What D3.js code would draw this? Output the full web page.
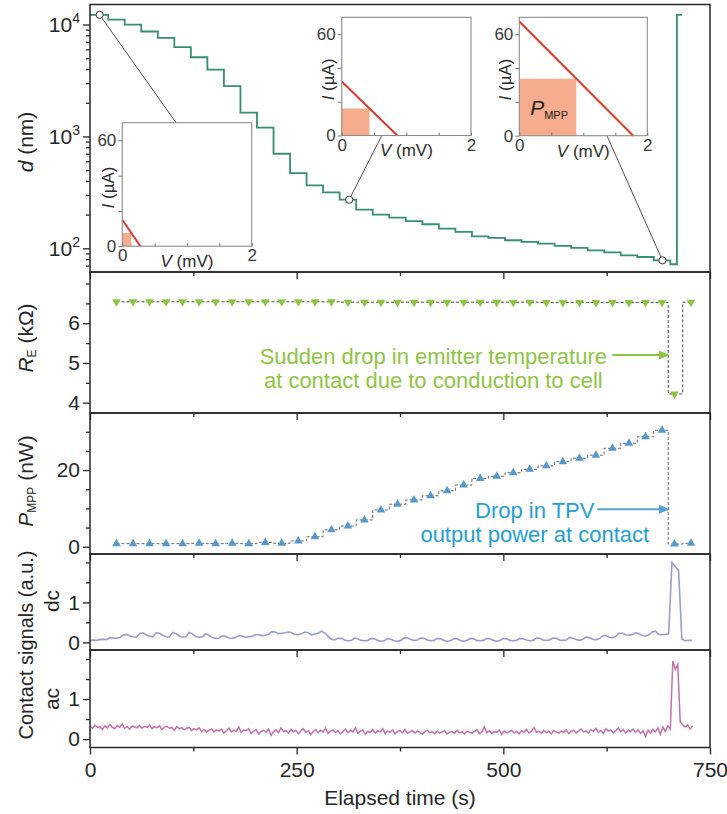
<!DOCTYPE html>
<html><head><meta charset="utf-8">
<script src="https://cdn.jsdelivr.net/npm/d3@7"></script>
<style>
body{margin:0;background:#fff}
svg text{font-family:Arial,"Liberation Sans",Helvetica,sans-serif}
</style>
</head><body>
<svg id="c" width="727" height="814"></svg>
<script>
// ---------------- data ----------------
const xTicksMajor = [0, 250, 500, 750];
const xTicksMinor = [125, 375, 625];

// gap d (nm): plateau start times (s) and values
const dTimes = [0,22,42,62,82,102,122,142,162,182,202,222,242,262,282,302,322,342,362,382,402,422,442,462,482,502,522,542,562,582,602,622,642,662,682,702,710,716];
const dValues = [12210,11080,10000,8660,7600,6270,5100,3960,2810,1630,1200,700,470,365,316,272,222,200,188,175,164,150,140,128,124,118,114,110,105,101,96,92,86.5,83.6,78,72,12210,12210];
const dCircleTimes = [11.7, 313.5, 692.5];
const dCircleValues = [12210, 272, 78];
const dMajorTicks = [100, 1000, 10000];
const dMinorTicks = [70,80,90,200,300,400,500,600,700,800,900,2000,3000,4000,5000,6000,7000,8000,9000];

// R_E and P_MPP measurements
const markerTimes = [32,52,72,92,112,132,152,172,192,212,232,252,272,292,312,332,352,372,392,412,432,452,472,492,512,532,552,572,592,612,632,652,672,692,707,727];
const reValues = [6.54,6.54,6.54,6.54,6.54,6.54,6.54,6.54,6.54,6.54,6.54,6.54,6.54,6.54,6.53,6.53,6.53,6.53,6.53,6.53,6.53,6.53,6.53,6.53,6.53,6.53,6.52,6.52,6.52,6.52,6.52,6.52,6.52,6.52,4.22,6.53];
const pmppValues = [0.8,0.8,0.8,0.8,0.8,0.9,0.8,0.9,0.8,1.1,0.9,1.5,2.6,4.4,5.4,7.0,9.6,11.1,12.2,13.3,14.6,16.1,17.8,18.4,19.3,20.2,21.1,22.2,23.1,23.9,25.7,27.0,28.7,30.4,0.7,0.9];
const reTicksMajor = [4,5,6], reTicksMinor = [4.5,5.5,6.5,7];
const pTicksMajor = [0,20], pTicksMinor = [5,10,15,25,30];

// contact signals
const dcStep = 4; // s
const dcValues = [0.05,0.06,0.05,0.07,0.08,0.07,0.12,0.11,0.10,0.12,
 0.18,0.20,0.16,0.14,0.13,0.22,0.24,0.19,0.15,0.14,
 0.24,0.23,0.18,0.14,0.13,0.25,0.22,0.16,0.13,0.14,
 0.25,0.21,0.15,0.13,0.14,0.22,0.18,0.12,0.10,0.11,
 0.16,0.15,0.11,0.10,0.12,0.17,0.16,0.13,0.14,0.15,
 0.19,0.19,0.17,0.18,0.20,0.27,0.26,0.22,0.23,0.24,
 0.26,0.24,0.20,0.19,0.22,0.26,0.24,0.19,0.21,0.23,
 0.28,0.24,0.15,0.08,0.06,0.10,0.10,0.06,0.04,0.05,
 0.11,0.09,0.05,0.04,0.05,0.10,0.09,0.05,0.03,0.04,
 0.09,0.08,0.04,0.03,0.05,0.11,0.12,0.07,0.05,0.06,
 0.11,0.10,0.06,0.04,0.05,0.10,0.09,0.05,0.03,0.04,
 0.09,0.09,0.05,0.03,0.05,0.10,0.09,0.05,0.04,0.05,
 0.10,0.09,0.05,0.03,0.05,0.10,0.09,0.05,0.04,0.05,
 0.10,0.09,0.06,0.04,0.05,0.11,0.10,0.06,0.05,0.06,
 0.11,0.10,0.06,0.05,0.06,0.12,0.11,0.07,0.05,0.07,
 0.13,0.12,0.08,0.07,0.09,0.16,0.17,0.13,0.12,0.15,
 0.23,0.23,0.19,0.18,0.20,0.24,0.22,0.17,0.16,0.19,
 0.26,0.28,0.20,0.19,0.20,0.21,2.00,1.90,1.80,0.08,
 0.04,0.05,0.05];
const acStep = 3; // s
const acValues = [0.32,0.27,0.35,0.29,0.31,0.24,0.33,0.28,0.36,0.30,0.26,0.34,0.29,0.38,0.27,0.31,0.25,0.33,0.30,0.28,
 0.34,0.27,0.32,0.29,0.35,0.26,0.31,0.28,0.33,0.24,0.30,0.32,0.27,0.29,0.22,0.31,0.26,0.28,0.23,0.27,
 0.29,0.21,0.26,0.23,0.28,0.19,0.24,0.17,0.22,0.26,0.18,0.23,0.20,0.25,0.15,0.21,0.27,0.18,0.22,0.19,
 0.30,0.17,0.23,0.21,0.26,0.14,0.20,0.24,0.12,0.19,0.22,0.17,0.25,0.09,0.18,0.23,0.16,0.28,0.19,0.21,
 0.15,0.24,0.18,0.22,0.13,0.20,0.26,0.17,0.21,0.11,0.19,0.24,0.16,0.22,0.18,0.27,0.14,0.20,0.23,0.17,
 0.21,0.13,0.19,0.25,0.16,0.22,0.18,0.28,0.15,0.20,0.23,0.12,0.19,0.17,0.24,0.15,0.21,0.18,0.26,0.14,
 0.20,0.17,0.23,0.13,0.19,0.22,0.16,0.24,0.14,0.18,0.21,0.15,0.20,0.17,0.12,0.19,0.22,0.16,0.18,0.14,
 0.20,0.15,0.18,0.21,0.13,0.17,0.19,0.14,0.22,0.16,0.18,0.13,0.20,0.17,0.15,0.19,0.23,0.14,0.18,0.30,
 0.16,0.21,0.14,0.19,0.17,0.23,0.12,0.20,0.16,0.18,0.22,0.15,0.19,0.13,0.21,0.17,0.24,0.15,0.19,0.29,
 0.17,0.20,0.14,0.22,0.16,0.19,0.13,0.21,0.18,0.15,0.20,0.17,0.23,0.14,0.19,0.22,0.16,0.20,0.25,0.18,
 0.21,0.15,0.24,0.19,0.27,0.17,0.22,0.14,0.26,0.20,0.23,0.16,0.21,0.28,0.18,0.24,0.15,0.22,0.19,0.25,
 0.17,0.23,0.14,0.21,0.06,0.22,0.15,0.24,0.18,0.28,0.12,0.30,0.19,0.33,0.25,1.95,1.74,1.86,0.42,0.36,
 0.30,0.36,0.25,0.33];
const sigTicksMajor = [0,1], sigTicksMinor = [0.5,1.5,2];

// I-V insets
const ivIsc = [15, 32, 67.5];   // µA
const ivVoc = [0.28, 0.86, 1.78]; // mV
const mppV = [0.14, 0.43, 0.89];
const mppI = [7.5, 16, 33.7];

// ---------------- layout ----------------
const svg = d3.select('#c');
const X0 = 90, X1 = 710;
const x = d3.scaleLinear().domain([0, 750]).range([X0, X1]);
const P = {
  d:  {top: 4.5, bottom: 272},
  re: {top: 272, bottom: 413},
  p:  {top: 413, bottom: 554},
  dc: {top: 554, bottom: 650},
  ac: {top: 650, bottom: 747.5}
};
const yd = d3.scaleLog().domain([61.4, 15100]).range([P.d.bottom, P.d.top]);
const yre = d3.scaleLinear().domain([3.74, 7.29]).range([P.re.bottom, P.re.top]);
const yp = d3.scaleLinear().domain([-1.9, 34.9]).range([P.p.bottom, P.p.top]);
const ydc = d3.scaleLinear().domain([-0.19, 2.21]).range([P.dc.bottom, P.dc.top]);
const yac = d3.scaleLinear().domain([-0.21, 2.225]).range([P.ac.bottom, P.ac.top]);

const INK = '#262626';
const FS = 21;

function styleAxis(g, fs){
  g.select('.domain').remove();
  g.selectAll('.tick line').attr('stroke', INK).attr('stroke-width', 1.3);
  g.selectAll('.tick text').attr('fill', INK).style('font-size', fs + 'px');
}

function panel(p, y, major, minor, fmt, last){
  const gb = svg.append('g').attr('transform', `translate(0,${p.bottom})`)
    .call(d3.axisBottom(x).tickValues(xTicksMajor).tickSize(7).tickPadding(8)
      .tickFormat(last ? d3.format('d') : ''));
  styleAxis(gb, FS);
  const gbm = svg.append('g').attr('transform', `translate(0,${p.bottom})`)
    .call(d3.axisBottom(x).tickValues(xTicksMinor).tickSize(4).tickFormat(''));
  styleAxis(gbm, FS);
  const gl = svg.append('g').attr('transform', `translate(${X0},0)`)
    .call(d3.axisLeft(y).tickValues(major).tickSize(7).tickPadding(3).tickFormat(fmt));
  styleAxis(gl, FS);
  const glm = svg.append('g').attr('transform', `translate(${X0},0)`)
    .call(d3.axisLeft(y).tickValues(minor).tickSize(4).tickFormat(''));
  styleAxis(glm, FS);
  return gl;
}

// ---------- top panel: d ----------
const insetBoxes = [
  {x: 122.3, y: 122.7, w: 129.4, h: 123.5},
  {x: 341.7, y: 17.3, w: 129.3, h: 118.2},
  {x: 519.3, y: 17.3, w: 128, h: 118.4}
];
const connectV = [0.83, 0.62, 1.37];
const connectEdge = ['top', 'bottom', 'bottom'];

insetBoxes.forEach((b, i) => {
  const ix = d3.scaleLinear().domain([0, 2]).range([b.x, b.x + b.w]);
  const ey = connectEdge[i] === 'top' ? b.y : b.y + b.h;
  svg.append('line')
    .attr('x1', x(dCircleTimes[i])).attr('y1', yd(dCircleValues[i]))
    .attr('x2', ix(connectV[i])).attr('y2', ey)
    .attr('stroke', '#3a3a3a').attr('stroke-width', 0.9);
});

const dLine = d3.line().x((d, i) => x(dTimes[i])).y(d => yd(d)).curve(d3.curveStepAfter);
svg.append('path').datum(dValues).attr('d', dLine)
  .attr('fill', 'none').attr('stroke', '#34906f').attr('stroke-width', 1.8);

svg.selectAll('.dcirc').data(dCircleValues).join('circle')
  .attr('cx', (d, i) => x(dCircleTimes[i])).attr('cy', d => yd(d)).attr('r', 3.6)
  .attr('fill', '#fff').attr('stroke', '#333').attr('stroke-width', 1);

// insets
insetBoxes.forEach((b, i) => {
  const g = svg.append('g').attr('transform', `translate(${b.x},${b.y})`);
  const ix = d3.scaleLinear().domain([0, 2]).range([0, b.w]);
  const iy = d3.scaleLinear().domain([0, 70]).range([b.h, 0]);
  g.append('rect').attr('width', b.w).attr('height', b.h).attr('fill', '#fff');
  g.append('rect').attr('x', ix(0)).attr('y', iy(mppI[i]))
    .attr('width', ix(mppV[i]) - ix(0)).attr('height', iy(0) - iy(mppI[i]))
    .attr('fill', '#f6ab8c');
  g.append('line').attr('x1', ix(0)).attr('y1', iy(ivIsc[i])).attr('x2', ix(ivVoc[i])).attr('y2', iy(0))
    .attr('stroke', '#e2372a').attr('stroke-width', 2);
  g.append('rect').attr('width', b.w).attr('height', b.h).attr('fill', 'none')
    .attr('stroke', '#8c8c8c').attr('stroke-width', 1.1);
  const gy = g.append('g').call(d3.axisLeft(iy).tickValues([0, 20, 40, 60]).tickSize(4).tickPadding(2)
    .tickFormat(d => (d === 0 || d === 60) ? d : ''));
  gy.select('.domain').remove();
  gy.selectAll('.tick line').attr('stroke', '#777');
  gy.selectAll('.tick text').attr('fill', '#3a3a3a').style('font-size', '17px');
  const gx = g.append('g').attr('transform', `translate(0,${b.h})`)
    .call(d3.axisBottom(ix).tickValues([0, 0.5, 1, 1.5, 2]).tickSize(3)
      .tickFormat(d => (d === 0 || d === 2) ? d : ''));
  gx.select('.domain').remove();
  gx.selectAll('.tick line').attr('stroke', '#777').attr('y1', -3).attr('y2', 0);
  gx.selectAll('.tick text').attr('fill', '#3a3a3a').style('font-size', '17px').attr('y', 3);
  const vl = g.append('text').attr('x', ix(1)).attr('y', b.h + 21).attr('text-anchor', 'middle')
    .attr('fill', '#2a2a2a').style('font-size', '17px');
  vl.append('tspan').attr('font-style', 'italic').text('V');
  vl.append('tspan').text(' (mV)');
  const il = g.append('text').attr('transform', `translate(-8,${b.h / 2 + 3}) rotate(-90)`)
    .attr('text-anchor', 'middle').attr('fill', '#2a2a2a').style('font-size', '17px');
  il.append('tspan').attr('font-style', 'italic').text('I');
  il.append('tspan').text(' (µA)');
  if (i === 2) {
    const pt = g.append('text').attr('x', ix(0.17)).attr('y', iy(12.5)).attr('fill', '#222').style('font-size', '21px');
    pt.append('tspan').attr('font-style', 'italic').text('P');
    pt.append('tspan').attr('dy', 4).style('font-size', '11px').text('MPP');
  }
});

// axes for top panel
const gld = panel(P.d, yd, dMajorTicks, dMinorTicks, d => d, false);
gld.selectAll('.tick text').each(function(d){
  const t = d3.select(this); t.text('');
  t.append('tspan').text('10');
  t.append('tspan').attr('dy', -9).style('font-size', '14px').text(Math.round(Math.log10(d)));
});

// ---------- R_E panel ----------
panel(P.re, yre, reTicksMajor, reTicksMinor, d3.format('d'), false);
svg.append('path').datum(reValues)
  .attr('d', d3.line().x((d, i) => x(markerTimes[i])).y(d => yre(d)).curve(d3.curveStep))
  .attr('fill', 'none').attr('stroke', '#333').attr('stroke-width', 0.9).attr('stroke-dasharray', '3,2');
svg.selectAll('.re').data(reValues).join('path')
  .attr('d', d3.symbol().type(d3.symbolTriangle).size(32))
  .attr('transform', (d, i) => `translate(${x(markerTimes[i])},${yre(d)}) rotate(180)`)
  .attr('fill', '#8cc540');

// ---------- P_MPP panel ----------
panel(P.p, yp, pTicksMajor, pTicksMinor, d3.format('d'), false);
svg.append('path').datum(pmppValues)
  .attr('d', d3.line().x((d, i) => x(markerTimes[i])).y(d => yp(d)).curve(d3.curveStep))
  .attr('fill', 'none').attr('stroke', '#555').attr('stroke-width', 0.9).attr('stroke-dasharray', '3,2');
svg.selectAll('.pm').data(pmppValues).join('path')
  .attr('d', d3.symbol().type(d3.symbolTriangle).size(32))
  .attr('transform', (d, i) => `translate(${x(markerTimes[i])},${yp(d)})`)
  .attr('fill', '#5598cd');

// ---------- dc / ac panels ----------
panel(P.dc, ydc, sigTicksMajor, sigTicksMinor, d3.format('d'), false);
svg.append('path').datum(dcValues)
  .attr('d', d3.line().x((d, i) => x(i * dcStep)).y(d => ydc(d)))
  .attr('fill', 'none').attr('stroke', '#9b9bce').attr('stroke-width', 1.6);
panel(P.ac, yac, sigTicksMajor, sigTicksMinor, d3.format('d'), true);
svg.append('path').datum(acValues)
  .attr('d', d3.line().x((d, i) => x(i * acStep)).y(d => yac(d)))
  .attr('fill', 'none').attr('stroke', '#c471ad').attr('stroke-width', 1.5);

// panel frames
Object.values(P).forEach(p => {
  svg.append('rect').attr('x', X0).attr('y', p.top).attr('width', X1 - X0).attr('height', p.bottom - p.top)
    .attr('fill', 'none').attr('stroke', INK).attr('stroke-width', 1.5);
});

// ---------- annotations ----------
function arrow(x1, x2, yy, color){
  svg.append('line').attr('x1', x1).attr('x2', x2 - 9).attr('y1', yy).attr('y2', yy)
    .attr('stroke', color).attr('stroke-width', 2);
  svg.append('path').attr('d', `M${x2},${yy} L${x2 - 11},${yy - 4.5} L${x2 - 11},${yy + 4.5} Z`).attr('fill', color);
}
const green = '#8dc63f', blue = '#1fa0d8';
arrow(x(631.8), x(701.6), yre(5.2), green);
[['Sudden drop in emitter temperature', 4.975], ['at contact due to conduction to cell', 4.36]].forEach(([t, v]) => {
  svg.append('text').attr('x', x(415.3)).attr('y', yre(v)).attr('text-anchor', 'middle')
    .attr('fill', green).style('font-size', '22px').text(t);
});
arrow(x(613.7), x(701.6), yp(9.76), '#5a9fd4');
[['Drop in TPV', 7.49], ['output power at contact', 1.36]].forEach(([t, v]) => {
  svg.append('text').attr('x', x(538)).attr('y', yp(v)).attr('text-anchor', 'middle')
    .attr('fill', blue).style('font-size', '22px').text(t);
});

// ---------- axis titles ----------
function ylabel(cx, cy, parts, fs){
  const t = svg.append('text').attr('transform', `translate(${cx},${cy}) rotate(-90)`)
    .attr('text-anchor', 'middle').attr('fill', INK).style('font-size', (fs || FS) + 'px');
  parts.forEach(([s, opt]) => {
    const ts = t.append('tspan').text(s);
    if (opt === 'i') ts.attr('font-style', 'italic');
    if (opt === 'sub') ts.style('font-size', '12px').attr('dy', 3);
    if (opt === 'back') ts.attr('dy', -3);
  });
}
ylabel(33, 142, [['d', 'i'], [' (nm)']]);
ylabel(33, 338, [['R', 'i'], ['E', 'sub'], [' (kΩ)', 'back']]);
ylabel(33, 481, [['P', 'i'], ['MPP', 'sub'], [' (nW)', 'back']]);
ylabel(33, 645, [['Contact signals (a.u.)']], 20);
ylabel(59, 601, [['dc']]);
ylabel(59, 699, [['ac']]);

svg.append('text').attr('x', x(375)).attr('y', 805).attr('text-anchor', 'middle')
  .attr('fill', INK).style('font-size', FS + 'px').text('Elapsed time (s)');
</script>
</body></html>
